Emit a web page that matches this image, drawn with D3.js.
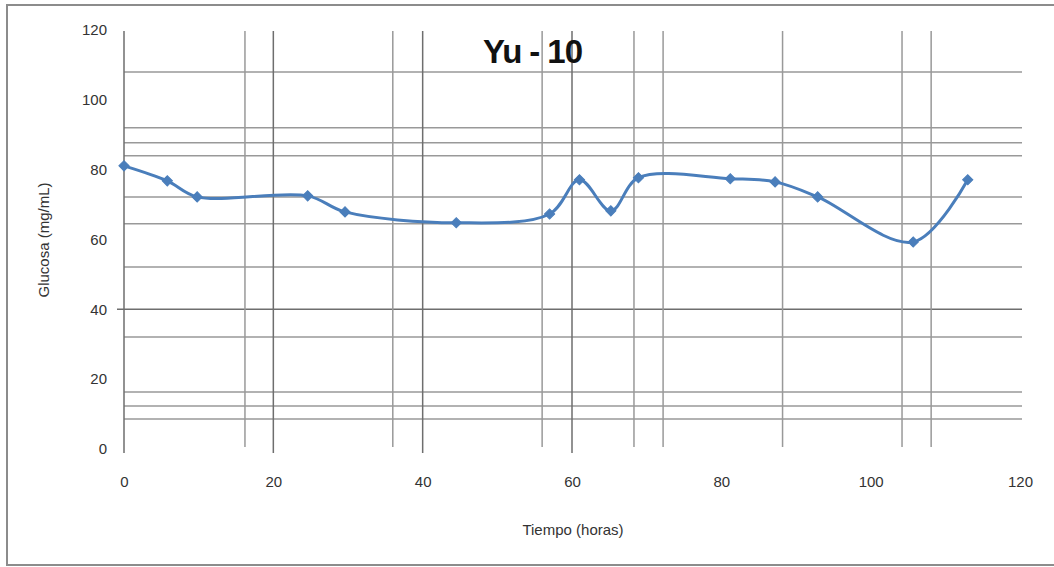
<!DOCTYPE html>
<html>
<head>
    <script src="https://cdn.jsdelivr.net/npm/d3@7"></script>
    <style>
        body { margin: 0; background: #fff; }
    </style>
</head>
<body>
    <svg width="1054" height="567" id="mainsvg"></svg>
    <script>
        const svg = d3.select('svg');

        // data
        const horas = [0, 5.8, 9.8, 24.6, 29.6, 44.5, 57, 61, 65.2, 68.9, 81.2, 87.2, 92.9, 105.7, 113];
        const glucosa = [81.1, 76.8, 72.2, 72.5, 67.9, 64.8, 67.3, 77.1, 68.2, 77.7, 77.4, 76.5, 72.2, 59.3, 77.1];
        const xTicks = [0, 20, 40, 60, 80, 100, 120];
        const yTicks = [0, 20, 40, 60, 80, 100, 120];
        // stray grid lines visible in the scanned chart
        const vGrid = [16.2, 20, 36, 40, 56, 60, 68.3, 72.2, 88.2, 104.2, 108.1];
        const hGrid = [108, 92, 87.7, 84, 72.2, 64.5, 52.1, 40, 32.1, 16.3, 12.3, 8.6];
        const darkV = [20, 40, 60];

        const x = d3.scaleLinear().domain([0, 120]).range([124, 1020]);
        const y = d3.scaleLinear().domain([0, 120]).range([449, 30]);

        // outer frame
        svg.append('rect').attr('x', 7).attr('y', 5).attr('width', 1060).attr('height', 560)
            .attr('fill', 'none').attr('stroke', '#8c8c8c').attr('stroke-width', 2);

        // grid lines
        const g = svg.append('g');
        g.selectAll('.hg').data(hGrid).join('line').attr('class', 'hg')
            .attr('x1', d => d === 40 ? 117 : x(0)).attr('x2', 1022)
            .attr('y1', d => y(d)).attr('y2', d => y(d))
            .attr('stroke', d => d === 40 ? '#6e6e6e' : '#999').attr('stroke-width', 1.5);
        g.selectAll('.vg').data(vGrid).join('line').attr('class', 'vg')
            .attr('x1', d => x(d)).attr('x2', d => x(d))
            .attr('y1', 31).attr('y2', d => darkV.includes(d) ? 453 : 447)
            .attr('stroke', d => darkV.includes(d) ? '#6e6e6e' : '#999').attr('stroke-width', 1.5);
        // y axis line
        g.append('line').attr('x1', x(0)).attr('x2', x(0)).attr('y1', 31).attr('y2', 453)
            .attr('stroke', '#6e6e6e').attr('stroke-width', 1.5);

        // axes (labels only)
        const yAxis = d3.axisLeft(y).tickValues(yTicks).tickSize(0).tickPadding(0);
        const xAxis = d3.axisBottom(x).tickValues(xTicks).tickSize(0).tickPadding(0);
        const ya = svg.append('g').attr('transform', 'translate(107,0)').call(yAxis);
        const xa = svg.append('g').attr('transform', 'translate(0,476)').call(xAxis);
        [ya, xa].forEach(a => {
            a.select('.domain').remove();
            a.selectAll('text').attr('font-family', 'Liberation Sans, Arial, sans-serif')
                .attr('font-size', 15).attr('fill', '#333');
        });

        // line
        const line = d3.line().x((d, i) => x(horas[i])).y(d => y(d)).curve(d3.curveCatmullRom.alpha(0.5));
        svg.append('path').datum(glucosa).attr('d', line)
            .attr('fill', 'none').attr('stroke', '#4a7ebb').attr('stroke-width', 3);

        // diamond markers
        const sym = d3.symbol().type(d3.symbolSquare).size(52);
        svg.selectAll('.pt').data(glucosa).join('path').attr('class', 'pt')
            .attr('d', sym)
            .attr('transform', (d, i) => `translate(${x(horas[i])},${y(d)}) rotate(45)`)
            .attr('fill', '#4a7ebb').attr('stroke', '#4a7ebb').attr('stroke-width', 1);

        // title
        svg.append('text').attr('x', 533).attr('y', 63).attr('text-anchor', 'middle')
            .attr('font-family', 'Liberation Sans, Arial, sans-serif').attr('font-weight', 'bold')
            .attr('font-size', 33).attr('fill', '#111').attr('textLength', 100)
            .text('Yu - 10');

        // axis titles
        svg.append('text').attr('x', 573).attr('y', 535).attr('text-anchor', 'middle')
            .attr('font-family', 'Liberation Sans, Arial, sans-serif').attr('font-size', 15)
            .attr('fill', '#333').text('Tiempo (horas)');
        svg.append('text').attr('transform', 'translate(49,240) rotate(-90)').attr('text-anchor', 'middle')
            .attr('font-family', 'Liberation Sans, Arial, sans-serif').attr('font-size', 15)
            .attr('fill', '#333').text('Glucosa (mg/mL)');
    </script>
</body>
</html>
